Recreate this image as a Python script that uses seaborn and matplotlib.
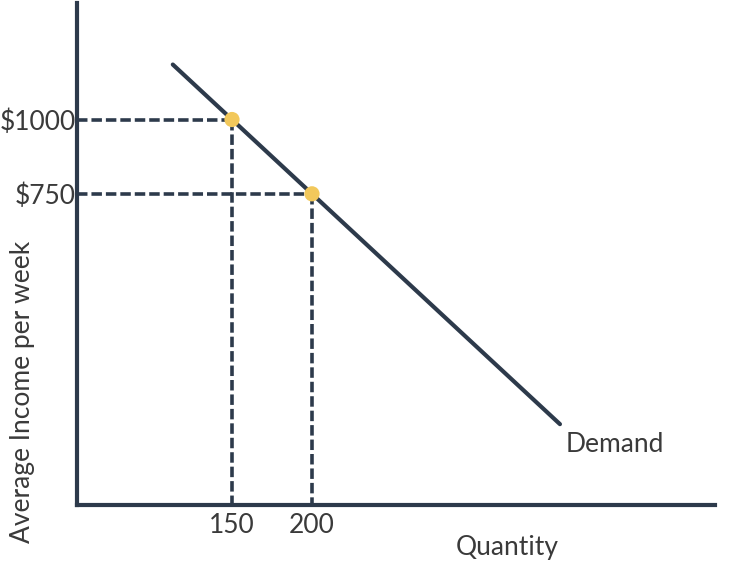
import matplotlib
matplotlib.use("Agg")
import matplotlib.pyplot as plt
import seaborn as sns
import pandas as pd

# demand curve end points (quantity, income)
demand_q = [113, 355]
demand_income = [1185, -25]

# marked points on the curve
point_q = [150, 200]
point_income = [1000, 750]
x_tick_labels = ["150", "200"]
y_tick_labels = ["$1000", "$750"]

NAVY = "#2d3a4b"
TEXT = "#3a3a3a"
GOLD = "#f2c85b"
FS = 19

sns.set_style("white")
plt.rcParams["font.family"] = ["Lato", "DejaVu Sans"]

fig = plt.figure(figsize=(7.43, 5.68), dpi=100)
ax = fig.add_axes([0.1036, 0.1109, 0.8587, 0.8838])

x_min, x_max = 53.1, 451.9
y_min, y_max = -297, 1392
ax.set_xlim(x_min, x_max)
ax.set_ylim(y_min, y_max)

df = pd.DataFrame({"q": demand_q, "income": demand_income})
sns.lineplot(data=df, x="q", y="income", color=NAVY, linewidth=3, ax=ax)

# dashed guide lines
for q, inc in zip(point_q, point_income):
    ax.plot([x_min, q], [inc, inc], color=NAVY, linewidth=2.6,
            dashes=(2.9, 1.1), zorder=2)
    ax.plot([q, q], [inc, y_min], color=NAVY, linewidth=2.6,
            dashes=(2.9, 1.1), zorder=2)

sns.scatterplot(x=point_q, y=point_income, color=GOLD, s=120,
                edgecolor="none", zorder=5, ax=ax)

ax.set_xticks(point_q)
ax.set_xticklabels(x_tick_labels)
ax.set_yticks(point_income)
ax.set_yticklabels(y_tick_labels)
ax.tick_params(axis="both", length=0, labelsize=FS, labelcolor=TEXT)
ax.tick_params(axis="x", pad=6)
ax.tick_params(axis="y", pad=1)

for side in ["top", "right"]:
    ax.spines[side].set_visible(False)
for side in ["left", "bottom"]:
    ax.spines[side].set_color(NAVY)
    ax.spines[side].set_linewidth(3)

ax.set_xlabel("Quantity", fontsize=FS, color=TEXT)
ax.xaxis.set_label_coords(0.674, -0.060)
ax.set_ylabel("Average Income per week", fontsize=FS, color=TEXT)
ax.yaxis.set_label_coords(-0.066, 0.225)

ax.text(358.75, -94.6, "Demand", fontsize=FS, color=TEXT,
        ha="left", va="center")

fig.savefig("out.png", dpi=100)
